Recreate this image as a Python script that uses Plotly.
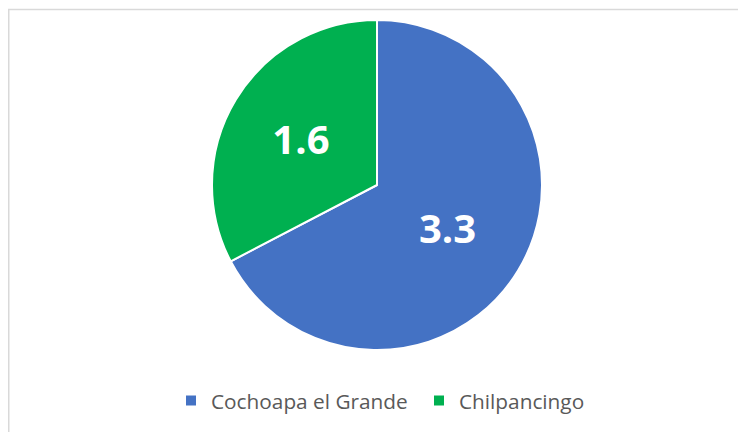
import plotly.graph_objects as go

categories = ["Cochoapa el Grande", "Chilpancingo"]
values = [3.3, 1.6]
colors = ["#4472C4", "#00B050"]

W, H = 746, 432
# page body adds an 8px offset; positions below are in figure coordinates
cx, cy, r = 369, 177, 165

fig = go.Figure()
fig.add_trace(go.Pie(
    labels=categories,
    values=values,
    sort=False,
    direction="clockwise",
    rotation=0,
    marker=dict(colors=colors, line=dict(color="white", width=2)),
    texttemplate="%{value:.1f}",
    textposition="inside",
    insidetextorientation="horizontal",
    textfont=dict(family="Open Sans", size=40, color="white", weight="bold"),
    hoverinfo="label+value",
    domain=dict(x=[(cx - r) / W, (cx + r) / W], y=[1 - (cy + r) / H, 1 - (cy - r) / H]),
))

fig.update_layout(
    width=W, height=H,
    margin=dict(l=0, r=0, t=0, b=0),
    paper_bgcolor="white",
    plot_bgcolor="white",
    showlegend=True,
    legend=dict(
        orientation="h",
        x=163 / W, xanchor="left",
        y=1 - 393 / H, yanchor="middle",
        font=dict(family="Open Sans", size=20.8, color="#595959"),
        itemwidth=30,
        entrywidth=203,
        traceorder="normal",
    ),
    shapes=[dict(
        type="rect", xref="paper", yref="paper",
        x0=0.75 / W, x1=1.05, y0=-0.05, y1=1 - 1.5 / H,
        line=dict(color="#D9D9D9", width=1.5),
        fillcolor="rgba(0,0,0,0)",
        layer="below",
    )],
)

fig.write_html("out.html")
